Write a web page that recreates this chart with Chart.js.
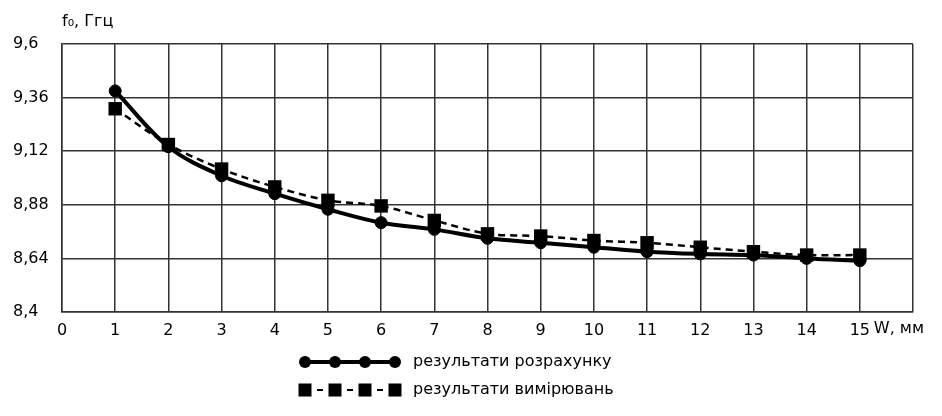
<!DOCTYPE html>
<html>
<head>
<meta charset="utf-8">
<script src="https://cdn.jsdelivr.net/npm/chart.js@4"></script>
<style>
  body { margin: 0; background: #fff; }
  #wrap { width: 942px; height: 416px; position: relative; }
</style>
</head>
<body>
<div id="wrap"><canvas id="chart"></canvas></div>
<script>
// W, мм
const widths = [1, 2, 3, 4, 5, 6, 7, 8, 9, 10, 11, 12, 13, 14, 15];
// f0, ГГц - результати розрахунку
const calcValues = [9.39, 9.14, 9.01, 8.93, 8.86, 8.80, 8.77, 8.73, 8.71, 8.69, 8.67, 8.66, 8.655, 8.64, 8.63];
// f0, ГГц - результати вимірювань
const measValues = [9.31, 9.15, 9.04, 8.96, 8.90, 8.875, 8.81, 8.75, 8.74, 8.72, 8.71, 8.69, 8.67, 8.655, 8.655];
const yTicks = [8.4, 8.64, 8.88, 9.12, 9.36, 9.6];
const labelCalc = 'результати розрахунку';
const labelMeas = 'результати вимірювань';

const FONT = '"DejaVu Sans", sans-serif';
Chart.defaults.font.family = FONT;
Chart.defaults.font.size = 16;
Chart.defaults.color = '#000';

const toXY = (vals) => vals.map((v, i) => ({ x: widths[i], y: v }));

// axis caption, unit and the two-row legend
const extras = {
    id: 'extras',
    afterDraw(chart) {
        const ctx = chart.ctx;
        const area = chart.chartArea;
        const xs = chart.scales.x;
        ctx.save();
        ctx.fillStyle = '#000';
        ctx.font = '16px ' + FONT;
        ctx.textBaseline = 'top';
        ctx.textAlign = 'left';
        ctx.fillText('W, мм', xs.getPixelForValue(15) + 14, area.bottom + 9);
        ctx.textBaseline = 'middle';
        ctx.fillText('f₀, Ггц', area.left, 22);

        // legend row 1
        let y1 = 362, y2 = 390, x0 = 305, step = 30;
        ctx.strokeStyle = '#000';
        ctx.lineWidth = 4;
        ctx.beginPath();
        ctx.moveTo(x0, y1);
        ctx.lineTo(x0 + 3 * step, y1);
        ctx.stroke();
        for (let i = 0; i < 4; i++) {
            ctx.beginPath();
            ctx.arc(x0 + i * step, y1, 6, 0, Math.PI * 2);
            ctx.fill();
        }
        ctx.fillText(labelCalc, 413, y1);

        // legend row 2
        for (let i = 0; i < 4; i++) {
            ctx.fillRect(x0 + i * step - 6.5, y2 - 6.5, 13, 13);
            if (i < 3) ctx.fillRect(x0 + i * step + 12, y2 - 1, 6, 2);
        }
        ctx.fillText(labelMeas, 413, y2);
        ctx.restore();
    }
};

new Chart(document.getElementById('chart'), {
    type: 'line',
    data: {
        datasets: [
            {
                label: labelMeas,
                data: toXY(measValues),
                borderColor: '#000',
                borderWidth: 2.5,
                borderDash: [7, 5],
                tension: 0.3,
                pointStyle: 'rect',
                pointRadius: 9.5,
                pointBackgroundColor: '#000',
                pointBorderColor: '#000',
                pointBorderWidth: 0,
                order: 0
            },
            {
                label: labelCalc,
                data: toXY(calcValues),
                borderColor: '#000',
                borderWidth: 4,
                tension: 0.35,
                pointStyle: 'circle',
                pointRadius: 6,
                pointBackgroundColor: '#000',
                pointBorderColor: '#000',
                pointBorderWidth: 1,
                order: 1
            }
        ]
    },
    options: {
        responsive: true,
        maintainAspectRatio: false,
        animation: false,
        layout: { padding: { left: 13, right: 29, top: 44, bottom: 0 } },
        plugins: {
            legend: { display: false },
            tooltip: { enabled: false }
        },
        scales: {
            x: {
                type: 'linear',
                min: 0,
                max: 16,
                ticks: {
                    stepSize: 1,
                    padding: 9,
                    callback: (v) => v === 16 ? '' : String(v)
                },
                grid: { color: '#333', lineWidth: 1.5, drawTicks: false },
                border: { color: '#333', width: 1.5 },
                afterFit: (s) => { s.height = 104; }
            },
            y: {
                min: 8.4,
                max: 9.6,
                afterBuildTicks: (s) => { s.ticks = yTicks.map(v => ({ value: v })); },
                ticks: {
                    crossAlign: 'far',
                    callback: (v) => String(Math.round(v * 100) / 100).replace('.', ',')
                },
                grid: { color: '#333', lineWidth: 1.5, drawTicks: false },
                border: { color: '#333', width: 1.5 },
                afterFit: (s) => { s.width = 49; }
            }
        }
    },
    plugins: [extras]
});
</script>
</body>
</html>
